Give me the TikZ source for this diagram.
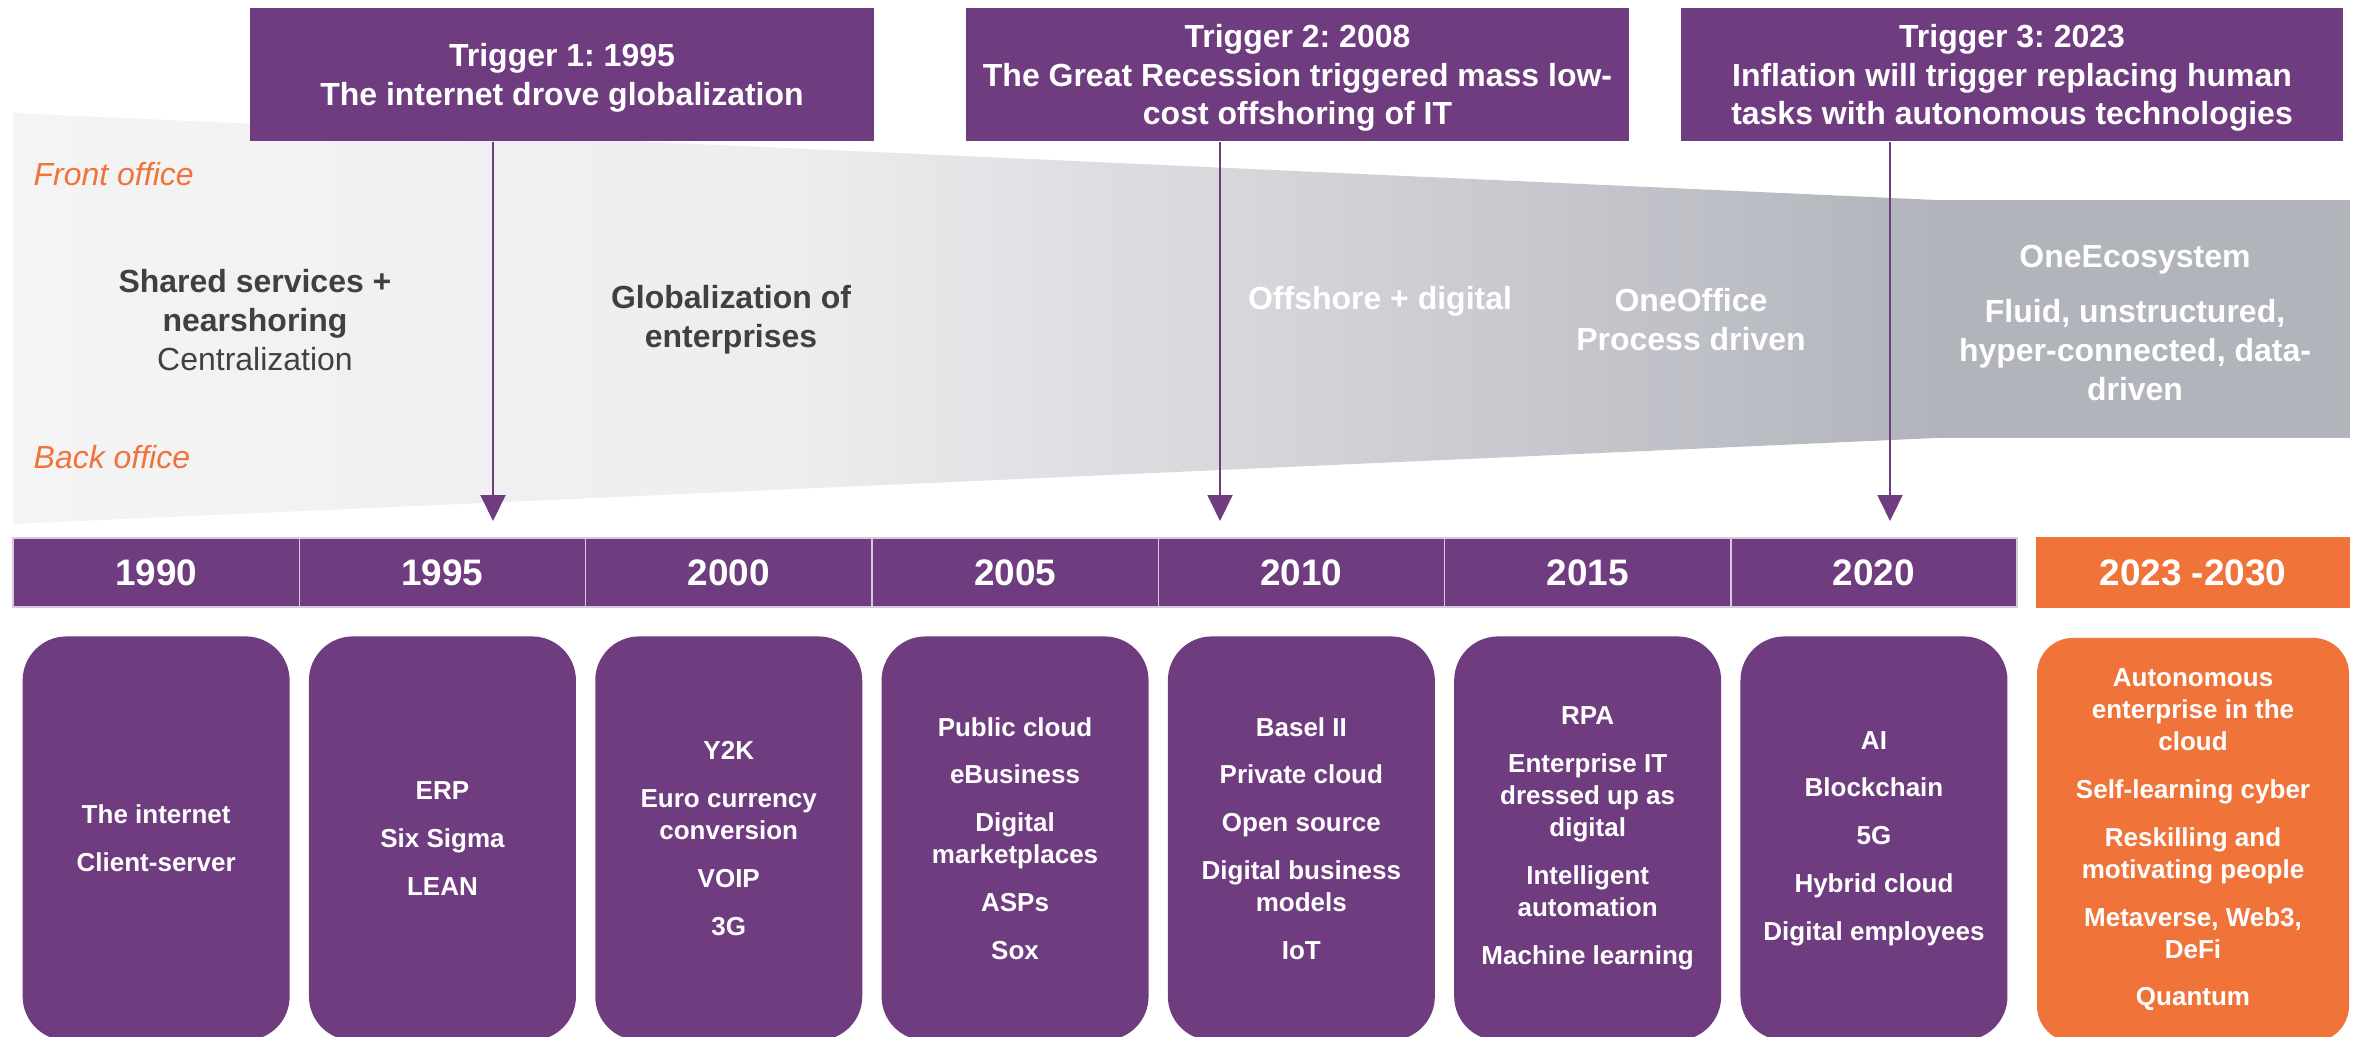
\documentclass[tikz,border=0pt]{standalone}
\usepackage{fontspec}
\setmainfont{Liberation Sans}
\usetikzlibrary{positioning, arrows.meta}
\definecolor{plum}{HTML}{703C80}
\definecolor{tangerine}{HTML}{F0733A}
\definecolor{haze}{HTML}{F4F4F5}
\definecolor{mist}{HTML}{EEEEF0}
\definecolor{slate}{HTML}{B2B4BC}
\definecolor{ink}{HTML}{404040}
\pgfdeclarehorizontalshading{funnelfade}{100bp}{color(0bp)=(haze); color(25bp)=(haze); color(45bp)=(mist); color(75bp)=(slate); color(100bp)=(slate)}
\frenchspacing

\tikzset{
  banner/.style={fill=plum, inner sep=0pt, minimum height=1.33cm},
  bannertext/.style={text=white, inner sep=0pt, align=center, yshift=-0.035cm,
    font=\fontsize{9.1}{11}\selectfont\bfseries},
  trigarrow/.style={draw=plum, line width=0.02cm, -{Triangle[width=0.25cm,length=0.26cm]}},
  yearcell/.style={fill=plum, draw=white!72!plum, line width=0.4pt, text=white,
    minimum width=2.863cm, minimum height=0.69cm, inner sep=0pt,
    font=\fontsize{10.5}{12}\selectfont\bfseries},
  techbox/.style={fill=plum, text=white, rounded corners=0.44cm, minimum width=2.67cm,
    minimum height=4.04cm, inner sep=0pt, align=center,
    font=\fontsize{7.4}{9.1}\selectfont\bfseries},
  stage/.style={align=center, inner sep=0pt, font=\fontsize{9.1}{11.1}\selectfont\bfseries},
  office/.style={anchor=west, inner sep=0pt, text=tangerine,
    font=\fontsize{9.1}{11}\selectfont\itshape}
}

\begin{document}
\begin{tikzpicture}
  \useasboundingbox (0,0) rectangle (23.59,-10.37);
  \clip (0,0) rectangle (23.59,-10.37);

  % funnel: front office on top, back office below
  \shade[shading=funnelfade] (0.13,-1.13) -- (19.36,-2.00) -- (19.36,-4.38) -- (0.13,-5.24) -- cycle;
  \fill[slate] (19.35,-2.00) rectangle (23.50,-4.38);

  \node[office] (front) at (0.33,-1.74) {Front office};
  \node[office] (back) at (0.33,-4.57) {Back office};

  \node[stage, text=ink] (shared) at (2.55,-3.20) {Shared services +\\nearshoring\\{\mdseries Centralization}};
  \node[stage, text=ink] (global) at (7.31,-3.20) {Globalization of\\enterprises};
  \node[stage, text=white] (offshore) at (13.80,-3.01) {Offshore + digital};
  \node[stage, text=white] (oneoffice) at (16.91,-3.20) {OneOffice\\Process driven};
  \node[stage, text=white] (oneeco) at (21.35,-3.23) {OneEcosystem\\[4.5pt]Fluid, unstructured,\\hyper-connected, data-\\driven};

  % trigger banners
  \node[banner, minimum width=6.24cm, label={[bannertext]center:{Trigger 1: 1995\\The internet drove globalization}}] (trig1995) at (5.62,-0.745) {};
  \node[banner, minimum width=6.63cm, label={[bannertext]center:{Trigger 2: 2008\\The Great Recession triggered mass low-\\cost offshoring of IT}}] (trig2008) at (12.975,-0.745) {};
  \node[banner, minimum width=6.62cm, label={[bannertext]center:{Trigger 3: 2023\\Inflation will trigger replacing human\\tasks with autonomous technologies}}] (trig2023) at (20.12,-0.745) {};

  % timeline
  \foreach \yr [count=\i from 0] in {1990,1995,2000,2005,2010,2015,2020}
    \node[yearcell] (y\yr) at ({1.5615+2.863*\i},-5.725) {\yr};
  \node[yearcell, fill=tangerine, draw=tangerine, minimum width=3.12cm, minimum height=0.70cm] (y2023) at (21.93,-5.725) {2023 -2030};

  \coordinate (hit1995) at (4.93,-5.21);
  \coordinate (hit2008) at (12.20,-5.21);
  \coordinate (hit2023) at (18.90,-5.21);
  \draw[trigarrow] (trig1995.south -| hit1995) -- (hit1995);
  \draw[trigarrow] (trig2008.south -| hit2008) -- (hit2008);
  \draw[trigarrow] (trig2023.south -| hit2023) -- (hit2023);

  % technologies per period
  \node[techbox, below=0.28cm of y1990] (tech1990) {The internet\\[4.5pt]Client-server};
  \node[techbox, below=0.28cm of y1995] (tech1995) {ERP\\[4.5pt]Six Sigma\\[4.5pt]LEAN};
  \node[techbox, below=0.28cm of y2000] (tech2000) {Y2K\\[4.5pt]Euro currency\\conversion\\[4.5pt]VOIP\\[4.5pt]3G};
  \node[techbox, below=0.28cm of y2005] (tech2005) {Public cloud\\[4.5pt]eBusiness\\[4.5pt]Digital\\marketplaces\\[4.5pt]ASPs\\[4.5pt]Sox};
  \node[techbox, below=0.28cm of y2010] (tech2010) {Basel II\\[4.5pt]Private cloud\\[4.5pt]Open source\\[4.5pt]Digital business\\models\\[4.5pt]IoT};
  \node[techbox, below=0.28cm of y2015] (tech2015) {RPA\\[4.5pt]Enterprise IT\\dressed up as\\digital\\[4.5pt]Intelligent\\automation\\[4.5pt]Machine learning};
  \node[techbox, below=0.28cm of y2020] (tech2020) {AI\\[4.5pt]Blockchain\\[4.5pt]5G\\[4.5pt]Hybrid cloud\\[4.5pt]Digital employees};
  \node[techbox, fill=tangerine, rounded corners=0.36cm, minimum width=3.12cm, below=0.29cm of y2023] (tech2023) {Autonomous\\enterprise in the\\cloud\\[4.5pt]Self-learning cyber\\[4.5pt]Reskilling and\\motivating people\\[4.5pt]Metaverse, Web3,\\DeFi\\[4.5pt]Quantum};
\end{tikzpicture}
\end{document}
